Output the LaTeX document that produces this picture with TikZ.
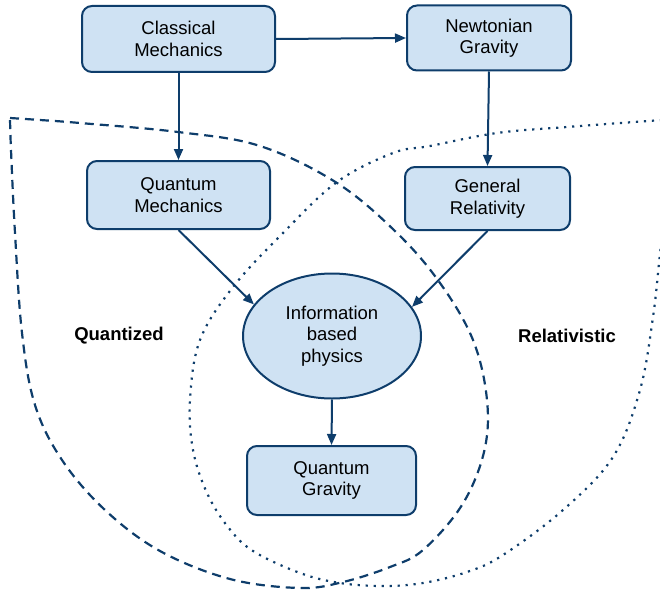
\documentclass[tikz,border=0pt]{standalone}
\usepackage{fontspec}
\setmainfont{Liberation Sans}
\usetikzlibrary{shapes.geometric,arrows.meta}
\definecolor{fillblue}{HTML}{CFE2F3}
\definecolor{strokeblue}{HTML}{0E3D6B}
\begin{document}
\begin{tikzpicture}[x=1pt,y=-1pt,
  box/.style={draw=strokeblue, fill=fillblue, line width=2pt, rounded corners=10pt, align=center, inner sep=0pt, font=\fontsize{18.5}{21.5}\selectfont},
  ell/.style={draw=strokeblue, fill=fillblue, line width=2pt, ellipse, align=center, inner sep=0pt, font=\fontsize{18.5}{21.5}\selectfont},
  conn/.style={draw=strokeblue, line width=2pt, -{Triangle[length=11pt,width=9pt]}},
  dashline/.style={draw=strokeblue, line width=2.2pt, dash pattern=on 9pt off 6pt},
  dotline/.style={draw=strokeblue, line width=2.2pt, dash pattern=on 2.2pt off 5.8pt},
  lbl/.style={font=\fontsize{18.5}{21.5}\selectfont\bfseries}
]
\useasboundingbox (0,0) rectangle (660,591);

% Quantized region (dashed)
\draw[dashline] plot[smooth, tension=0.6] coordinates {
  (10,118) (40,120) (80,123) (178,132) (260,146) (337,183) (397,233) (440,283)
  (473,340) (487,400) (484,452) (462,505) (423,550) (390,567) (343,582)
  (300,588) (230,579) (160,551) (105,510) (62,460) (35,405) (22,333)
  (15,233) (11,150) (10,118)};

% Relativistic region (dotted)
\draw[dotline] plot[smooth, tension=0.6] coordinates {
  (662,120) (567,127) (497,133) (430,146) (393,153) (337,182) (283,233)
  (233,287) (200,340) (190,400) (193,450) (207,493) (228,527) (253,551)
  (300,573) (340,583) (383,586) (423,583) (467,572) (503,555) (563,510)
  (613,457) (640,390) (653,317) (659,263) (661,245)};

\node[box, minimum width=193pt, minimum height=66pt] (CM) at (178.5,39) {Classical\\Mechanics};
\node[box, minimum width=164pt, minimum height=65pt] (NG) at (489,38) {Newtonian\\Gravity};
\node[box, minimum width=183pt, minimum height=68pt] (QM) at (178.5,195) {Quantum\\Mechanics};
\node[box, minimum width=165pt, minimum height=63pt] (GR) at (487.5,198.5) {General\\Relativity};
\node[ell, minimum width=178pt, minimum height=125pt] (IBP) at (332,336) {Information\\based\\physics};
\node[box, minimum width=169pt, minimum height=69pt] (QG) at (331.5,480.5) {Quantum\\Gravity};

\node[lbl] (quant) at (119,336) {Quantized};
\node[lbl] (rel) at (567,336) {Relativistic};

\draw[conn] (CM.east) -- (NG.west);
\draw[conn] (CM.south) -- (QM.north);
\draw[conn] (NG.south) -- (GR.north);
\draw[conn] (QM.south) -- (IBP.158);
\draw[conn] (GR.south) -- (IBP.20);
\draw[conn] (IBP.south) -- (QG.north);
\end{tikzpicture}
\end{document}
